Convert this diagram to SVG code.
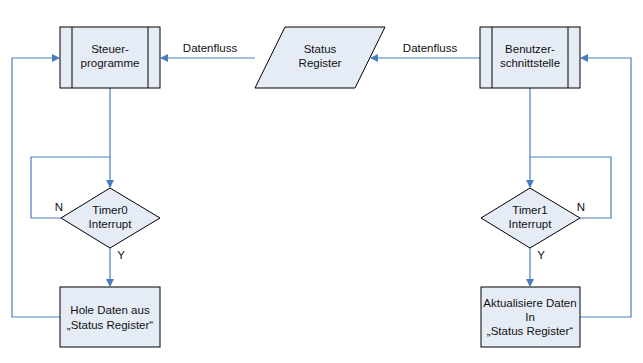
<svg xmlns="http://www.w3.org/2000/svg" width="643" height="363" viewBox="0 0 643 363">
<style>
.node{fill:#e6ecf6;stroke:#000;stroke-width:1}
.in{stroke:#000;stroke-width:1;fill:none}
.c{fill:none;stroke:#4a7ebb;stroke-width:1.2}
text{font-family:"Liberation Sans",Arial,sans-serif;font-size:11.5px;fill:#111}
.m{text-anchor:middle}
</style>
<defs>
<marker id="a" markerWidth="8" markerHeight="8" refX="7" refY="4" orient="auto" markerUnits="userSpaceOnUse">
<path d="M0,0 L8,4 L0,8 Z" fill="#4a7ebb"/>
</marker>
</defs>
<rect width="643" height="363" fill="#fff"/>
<g id="connectors">
<path class="c" d="M255,58 H161" marker-end="url(#a)"/>
<path class="c" d="M480,58 H371" marker-end="url(#a)"/>
<path class="c" d="M110,88 V187" marker-end="url(#a)"/>
<path class="c" d="M61,218 H31 V157 H110"/>
<path class="c" d="M110,248 V286" marker-end="url(#a)"/>
<path class="c" d="M60,317 H12 V58 H59" marker-end="url(#a)"/>
<path class="c" d="M530,88 V187" marker-end="url(#a)"/>
<path class="c" d="M580,218 H611 V157 H530"/>
<path class="c" d="M530,248 V286" marker-end="url(#a)"/>
<path class="c" d="M580,317 H631 V58 H581" marker-end="url(#a)"/>
<text x="210" y="52" class="m">Datenfluss</text>
<text x="430" y="52" class="m">Datenfluss</text>
<text x="59" y="211" class="m">N</text>
<text x="121" y="259" class="m">Y</text>
<text x="581" y="211" class="m">N</text>
<text x="541" y="259" class="m">Y</text>
</g>
<g id="steuer">
<rect class="node" x="60" y="27" width="100" height="61"/>
<path class="in" d="M72,27 V88 M148,27 V88"/>
<text x="110" y="53" class="m">Steuer-</text>
<text x="110" y="67" class="m">programme</text>
</g>
<g id="status">
<polygon class="node" points="285,27 385,27 355,88 255,88"/>
<text x="320" y="53" class="m">Status</text>
<text x="320" y="67" class="m">Register</text>
</g>
<g id="benutzer">
<rect class="node" x="480" y="27" width="100" height="61"/>
<path class="in" d="M492,27 V88 M568,27 V88"/>
<text x="530" y="53" class="m">Benutzer-</text>
<text x="530" y="67" class="m">schnittstelle</text>
</g>
<g id="timer0">
<polygon class="node" points="110,188 160,218 110,248 61,218"/>
<text x="110" y="214" class="m">Timer0</text>
<text x="110" y="228" class="m">Interrupt</text>
</g>
<g id="timer1">
<polygon class="node" points="530,188 580,218 530,248 481,218"/>
<text x="530" y="214" class="m">Timer1</text>
<text x="530" y="228" class="m">Interrupt</text>
</g>
<g id="hole">
<rect class="node" x="60" y="287" width="100" height="60"/>
<text x="110" y="314" class="m">Hole Daten aus</text>
<text x="110" y="329" class="m">„Status Register“</text>
</g>
<g id="aktualisiere">
<rect class="node" x="481" y="287" width="99" height="60"/>
<text x="530" y="307" class="m">Aktualisiere Daten</text>
<text x="530" y="321" class="m">In</text>
<text x="530" y="335" class="m">„Status Register“</text>
</g>
</svg>
